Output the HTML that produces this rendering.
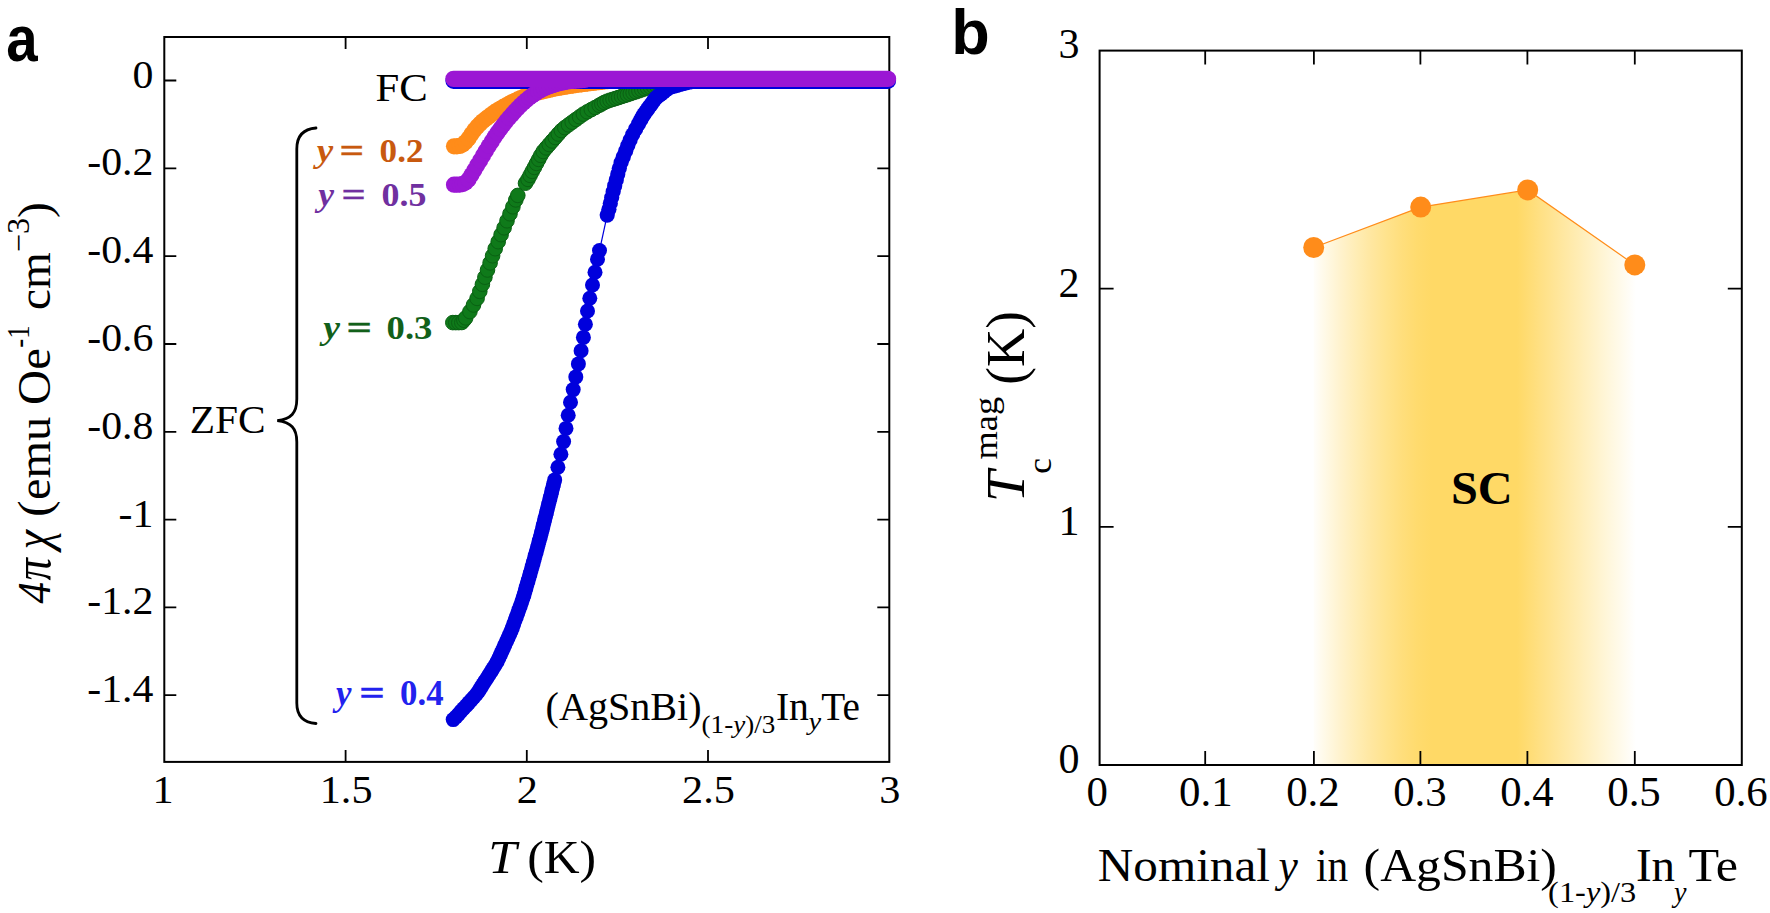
<!DOCTYPE html>
<html lang="en"><head><meta charset="utf-8"><title>Figure</title>
<style>
html,body{margin:0;padding:0;background:#fff;}
body{width:1770px;height:913px;overflow:hidden;}
svg{display:block;}
text{font-family:"Liberation Serif", "Times New Roman", serif;}
.sans{font-family:"Liberation Sans", Arial, sans-serif;font-weight:bold;}
.b{font-weight:bold;}
.i{font-style:italic;}
.bi{font-weight:bold;font-style:italic;}
.ax{stroke:#000;stroke-width:2;fill:none;}
.tk{stroke:#000;stroke-width:1.8;fill:none;}
</style></head><body>
<svg width="1770" height="913" viewBox="0 0 1770 913">
<defs>
<linearGradient id="gl" gradientUnits="userSpaceOnUse" x1="1311.0" x2="1636.0" y1="0" y2="0"><stop offset="0.0000" stop-color="#ffffff"/><stop offset="0.0465" stop-color="#fff9e5"/><stop offset="0.0931" stop-color="#fff2cc"/><stop offset="0.1396" stop-color="#ffedb5"/><stop offset="0.1862" stop-color="#ffe7a0"/><stop offset="0.2327" stop-color="#ffe38d"/><stop offset="0.2792" stop-color="#ffde7c"/><stop offset="0.3258" stop-color="#ffdb6e"/><stop offset="0.3723" stop-color="#ffd966"/><stop offset="0.6338" stop-color="#ffd966"/><stop offset="0.7254" stop-color="#ffe28c"/><stop offset="0.8169" stop-color="#ffecb2"/><stop offset="0.9085" stop-color="#fff6d9"/><stop offset="1.0000" stop-color="#ffffff"/></linearGradient>
</defs>
<rect width="1770" height="913" fill="#fff"/>

<rect class="ax" x="164.3" y="37.0" width="725.0" height="724.9"/>
<path class="tk" d="M345.6,761.9v-12M345.6,37.0v12M526.8,761.9v-12M526.8,37.0v12M708.0,761.9v-12M708.0,37.0v12M164.3,80.5h12M889.3,80.5h-12M164.3,168.3h12M889.3,168.3h-12M164.3,256.1h12M889.3,256.1h-12M164.3,344.0h12M889.3,344.0h-12M164.3,431.8h12M889.3,431.8h-12M164.3,519.6h12M889.3,519.6h-12M164.3,607.4h12M889.3,607.4h-12M164.3,695.2h12M889.3,695.2h-12"/>
<path d="M454.0,146.3 L456.9,146.3 L459.8,145.9 L462.7,144.6 L465.6,142.1 L468.5,138.4 L471.4,134.3 L474.3,130.3 L477.2,126.7 L480.1,123.7 L483.0,121.1 L485.9,118.7 L488.8,116.5 L491.7,114.3 L494.6,112.2 L497.5,110.3 L500.4,108.6 L503.3,106.9 L506.2,105.3 L509.1,103.7 L512.0,102.2 L514.9,100.8 L517.8,99.4 L520.7,98.1 L523.6,96.9 L526.5,95.8 L529.4,94.8 L532.3,94.0 L535.2,93.2 L538.1,92.5 L541.0,91.8 L543.9,91.1 L546.8,90.4 L549.7,89.8 L552.6,89.1 L555.5,88.5 L558.4,87.9 L561.3,87.4 L564.2,86.9 L567.1,86.4 L570.0,86.0 L572.9,85.6 L575.8,85.1 L578.7,84.7 L581.6,84.3 L584.5,83.9 L587.4,83.6 L590.3,83.2 L593.2,82.9 L596.1,82.5 L599.0,82.2 L601.9,81.8 L604.8,81.5 L607.7,81.2 L610.6,81.0 L613.5,80.7 L616.4,80.5 L619.3,80.4 L622.2,80.3 L625.1,80.2 L628.0,80.1" stroke="#ff8c1a" stroke-width="1.2" fill="none"/>
<g fill="#ff8c1a"><circle cx="454.0" cy="146.3" r="8.1"/><circle cx="456.9" cy="146.3" r="8.1"/><circle cx="459.8" cy="145.9" r="8.1"/><circle cx="462.7" cy="144.6" r="8.1"/><circle cx="465.6" cy="142.1" r="8.1"/><circle cx="468.5" cy="138.4" r="8.1"/><circle cx="471.4" cy="134.3" r="8.1"/><circle cx="474.3" cy="130.3" r="8.1"/><circle cx="477.2" cy="126.7" r="8.1"/><circle cx="480.1" cy="123.7" r="8.1"/><circle cx="483.0" cy="121.1" r="8.1"/><circle cx="485.9" cy="118.7" r="8.1"/><circle cx="488.8" cy="116.5" r="8.1"/><circle cx="491.7" cy="114.3" r="8.1"/><circle cx="494.6" cy="112.2" r="8.1"/><circle cx="497.5" cy="110.3" r="8.1"/><circle cx="500.4" cy="108.6" r="8.1"/><circle cx="503.3" cy="106.9" r="8.1"/><circle cx="506.2" cy="105.3" r="8.1"/><circle cx="509.1" cy="103.7" r="8.1"/><circle cx="512.0" cy="102.2" r="8.1"/><circle cx="514.9" cy="100.8" r="8.1"/><circle cx="517.8" cy="99.4" r="8.1"/><circle cx="520.7" cy="98.1" r="8.1"/><circle cx="523.6" cy="96.9" r="8.1"/><circle cx="526.5" cy="95.8" r="8.1"/><circle cx="529.4" cy="94.8" r="8.1"/><circle cx="532.3" cy="94.0" r="8.1"/><circle cx="535.2" cy="93.2" r="8.1"/><circle cx="538.1" cy="92.5" r="8.1"/><circle cx="541.0" cy="91.8" r="8.1"/><circle cx="543.9" cy="91.1" r="8.1"/><circle cx="546.8" cy="90.4" r="8.1"/><circle cx="549.7" cy="89.8" r="8.1"/><circle cx="552.6" cy="89.1" r="8.1"/><circle cx="555.5" cy="88.5" r="8.1"/><circle cx="558.4" cy="87.9" r="8.1"/><circle cx="561.3" cy="87.4" r="8.1"/><circle cx="564.2" cy="86.9" r="8.1"/><circle cx="567.1" cy="86.4" r="8.1"/><circle cx="570.0" cy="86.0" r="8.1"/><circle cx="572.9" cy="85.6" r="8.1"/><circle cx="575.8" cy="85.1" r="8.1"/><circle cx="578.7" cy="84.7" r="8.1"/><circle cx="581.6" cy="84.3" r="8.1"/><circle cx="584.5" cy="83.9" r="8.1"/><circle cx="587.4" cy="83.6" r="8.1"/><circle cx="590.3" cy="83.2" r="8.1"/><circle cx="593.2" cy="82.9" r="8.1"/><circle cx="596.1" cy="82.5" r="8.1"/><circle cx="599.0" cy="82.2" r="8.1"/><circle cx="601.9" cy="81.8" r="8.1"/><circle cx="604.8" cy="81.5" r="8.1"/><circle cx="607.7" cy="81.2" r="8.1"/><circle cx="610.6" cy="81.0" r="8.1"/><circle cx="613.5" cy="80.7" r="8.1"/><circle cx="616.4" cy="80.5" r="8.1"/><circle cx="619.3" cy="80.4" r="8.1"/><circle cx="622.2" cy="80.3" r="8.1"/><circle cx="625.1" cy="80.2" r="8.1"/><circle cx="628.0" cy="80.1" r="8.1"/></g>
<path d="M452.8,322.6 L455.8,322.6 L458.8,322.6 L461.8,322.5 L463.9,320.2 L465.7,317.9 L469.9,311.6 L473.5,305.0 L477.1,298.4 L479.8,291.4 L482.4,284.3 L484.9,277.2 L487.5,270.0 L490.1,262.9 L492.6,255.8 L495.2,248.7 L498.2,241.7 L501.1,234.7 L504.1,227.8 L507.0,220.8 L510.0,213.8 L512.9,206.8 L515.8,199.9 L517.8,195.4 L525.5,183.2 L528.0,179.4 L530.1,175.4 L532.2,171.4 L534.4,167.4 L536.5,163.4 L538.7,159.4 L540.8,155.4 L543.2,151.5 L546.2,147.9 L549.2,144.5 L552.2,141.0 L555.3,137.5 L558.3,134.0 L561.4,130.6 L564.8,127.6 L568.5,124.9 L572.2,122.2 L575.9,119.5 L579.6,116.8 L583.4,114.1 L587.3,111.8 L591.3,109.6 L595.2,107.5 L599.2,105.3 L601.8,103.9 L604.4,102.4 L607.2,101.2 L610.1,100.2 L613.0,99.3 L615.9,98.4 L618.7,97.5 L621.6,96.5 L624.5,95.6 L627.4,94.7 L630.3,93.7 L633.1,92.7 L636.0,91.8 L638.9,90.8 L641.8,89.8 L644.7,88.8 L647.5,87.8 L650.4,86.9 L653.4,86.2 L656.3,85.4 L659.3,84.7 L662.3,83.9 L665.2,83.2 L668.2,82.5 L671.2,81.9 L674.2,81.6 L677.2,81.3 L680.3,81.0 L683.3,80.7 L686.4,80.4 L689.4,80.1" stroke="#0a6113" stroke-width="1.2" fill="none"/>
<g fill="#0f7a1a" stroke="#0a6113" stroke-width="1"><circle cx="452.8" cy="322.6" r="7.3"/><circle cx="455.8" cy="322.6" r="7.3"/><circle cx="458.8" cy="322.6" r="7.3"/><circle cx="461.8" cy="322.5" r="7.3"/><circle cx="463.9" cy="320.2" r="7.3"/><circle cx="465.7" cy="317.9" r="7.3"/><circle cx="469.9" cy="311.6" r="7.3"/><circle cx="473.5" cy="305.0" r="7.3"/><circle cx="477.1" cy="298.4" r="7.3"/><circle cx="479.8" cy="291.4" r="7.3"/><circle cx="482.4" cy="284.3" r="7.3"/><circle cx="484.9" cy="277.2" r="7.3"/><circle cx="487.5" cy="270.0" r="7.3"/><circle cx="490.1" cy="262.9" r="7.3"/><circle cx="492.6" cy="255.8" r="7.3"/><circle cx="495.2" cy="248.7" r="7.3"/><circle cx="498.2" cy="241.7" r="7.3"/><circle cx="501.1" cy="234.7" r="7.3"/><circle cx="504.1" cy="227.8" r="7.3"/><circle cx="507.0" cy="220.8" r="7.3"/><circle cx="510.0" cy="213.8" r="7.3"/><circle cx="512.9" cy="206.8" r="7.3"/><circle cx="515.8" cy="199.9" r="7.3"/><circle cx="517.8" cy="195.4" r="7.3"/><circle cx="525.5" cy="183.2" r="7.3"/><circle cx="528.0" cy="179.4" r="7.3"/><circle cx="530.1" cy="175.4" r="7.3"/><circle cx="532.2" cy="171.4" r="7.3"/><circle cx="534.4" cy="167.4" r="7.3"/><circle cx="536.5" cy="163.4" r="7.3"/><circle cx="538.7" cy="159.4" r="7.3"/><circle cx="540.8" cy="155.4" r="7.3"/><circle cx="543.2" cy="151.5" r="7.3"/><circle cx="546.2" cy="147.9" r="7.3"/><circle cx="549.2" cy="144.5" r="7.3"/><circle cx="552.2" cy="141.0" r="7.3"/><circle cx="555.3" cy="137.5" r="7.3"/><circle cx="558.3" cy="134.0" r="7.3"/><circle cx="561.4" cy="130.6" r="7.3"/><circle cx="564.8" cy="127.6" r="7.3"/><circle cx="568.5" cy="124.9" r="7.3"/><circle cx="572.2" cy="122.2" r="7.3"/><circle cx="575.9" cy="119.5" r="7.3"/><circle cx="579.6" cy="116.8" r="7.3"/><circle cx="583.4" cy="114.1" r="7.3"/><circle cx="587.3" cy="111.8" r="7.3"/><circle cx="591.3" cy="109.6" r="7.3"/><circle cx="595.2" cy="107.5" r="7.3"/><circle cx="599.2" cy="105.3" r="7.3"/><circle cx="601.8" cy="103.9" r="7.3"/><circle cx="604.4" cy="102.4" r="7.3"/><circle cx="607.2" cy="101.2" r="7.3"/><circle cx="610.1" cy="100.2" r="7.3"/><circle cx="613.0" cy="99.3" r="7.3"/><circle cx="615.9" cy="98.4" r="7.3"/><circle cx="618.7" cy="97.5" r="7.3"/><circle cx="621.6" cy="96.5" r="7.3"/><circle cx="624.5" cy="95.6" r="7.3"/><circle cx="627.4" cy="94.7" r="7.3"/><circle cx="630.3" cy="93.7" r="7.3"/><circle cx="633.1" cy="92.7" r="7.3"/><circle cx="636.0" cy="91.8" r="7.3"/><circle cx="638.9" cy="90.8" r="7.3"/><circle cx="641.8" cy="89.8" r="7.3"/><circle cx="644.7" cy="88.8" r="7.3"/><circle cx="647.5" cy="87.8" r="7.3"/><circle cx="650.4" cy="86.9" r="7.3"/><circle cx="653.4" cy="86.2" r="7.3"/><circle cx="656.3" cy="85.4" r="7.3"/><circle cx="659.3" cy="84.7" r="7.3"/><circle cx="662.3" cy="83.9" r="7.3"/><circle cx="665.2" cy="83.2" r="7.3"/><circle cx="668.2" cy="82.5" r="7.3"/><circle cx="671.2" cy="81.9" r="7.3"/><circle cx="674.2" cy="81.6" r="7.3"/><circle cx="677.2" cy="81.3" r="7.3"/><circle cx="680.3" cy="81.0" r="7.3"/><circle cx="683.3" cy="80.7" r="7.3"/><circle cx="686.4" cy="80.4" r="7.3"/><circle cx="689.4" cy="80.1" r="7.3"/></g>
<path d="M453.2,719.6 L455.9,717.0 L458.5,714.2 L461.0,711.3 L463.6,708.5 L466.2,705.7 L468.7,702.9 L471.3,700.0 L473.8,697.2 L476.4,694.3 L478.7,691.1 L480.7,687.9 L482.8,684.6 L484.8,681.4 L486.9,678.2 L488.9,675.0 L491.0,671.8 L493.0,668.6 L495.1,665.3 L497.1,661.8 L498.8,658.3 L500.3,655.0 L501.9,651.6 L503.4,648.2 L504.9,644.8 L506.5,641.4 L508.0,638.0 L509.6,634.6 L511.1,631.1 L512.4,627.7 L513.7,624.1 L515.0,620.4 L516.4,616.8 L517.7,613.2 L519.0,609.6 L520.3,606.0 L521.6,602.3 L522.9,598.3 L524.0,595.0 L525.0,591.4 L526.0,587.9 L527.0,584.3 L528.1,580.8 L529.1,577.3 L530.1,573.7 L531.1,570.2 L532.2,566.6 L533.2,562.9 L534.2,559.2 L535.2,555.5 L536.3,551.7 L537.3,548.0 L538.3,544.3 L539.3,540.5 L540.4,536.7 L541.4,532.8 L542.3,529.4 L543.1,525.9 L544.0,522.4 L544.9,518.8 L545.8,515.3 L546.7,511.8 L547.5,508.3 L548.4,504.7 L549.3,501.2 L550.2,497.7 L551.1,494.2 L551.9,490.7 L552.8,487.2 L553.7,483.8 L554.7,479.9 L557.9,467.2 L560.9,454.3 L563.6,441.6 L566.0,428.4 L568.2,415.2 L570.5,402.3 L573.2,389.6 L575.8,376.9 L578.4,363.9 L581.1,350.7 L583.4,337.4 L585.4,324.2 L587.5,311.0 L589.8,298.2 L592.5,285.0 L595.0,272.3 L597.5,259.2 L599.5,250.5 L607.2,215.1 L608.9,209.3 L610.3,203.4 L611.7,197.5 L613.2,191.6 L614.7,185.7 L616.3,179.9 L617.8,174.1 L619.3,168.3 L621.1,162.5 L623.3,156.8 L625.6,151.2 L627.8,145.6 L630.1,140.0 L632.7,134.5 L635.6,129.2 L638.5,123.9 L640.7,119.9 L642.1,117.3 L643.7,114.7 L645.5,112.2 L647.3,109.7 L649.0,107.2 L650.8,104.8 L652.6,102.3 L654.3,99.8 L656.3,97.6 L658.8,95.7 L661.2,93.8 L663.6,91.9 L666.0,90.0 L668.4,88.1 L671.1,86.9 L674.1,86.1 L677.0,85.3 L680.0,84.5 L682.9,83.7 L685.9,82.9 L688.8,82.1 L691.8,81.7 L694.8,81.4 L697.8,81.2 L700.8,80.9 L703.8,80.7 L706.8,80.6 L709.9,80.6 L712.9,80.5 L715.9,80.5 L718.9,80.5 L721.9,80.4 L724.9,80.4" stroke="#0000dc" stroke-width="1.2" fill="none"/>
<g fill="#0000dc"><circle cx="453.2" cy="719.6" r="7.5"/><circle cx="455.9" cy="717.0" r="7.5"/><circle cx="458.5" cy="714.2" r="7.5"/><circle cx="461.0" cy="711.3" r="7.5"/><circle cx="463.6" cy="708.5" r="7.5"/><circle cx="466.2" cy="705.7" r="7.5"/><circle cx="468.7" cy="702.9" r="7.5"/><circle cx="471.3" cy="700.0" r="7.5"/><circle cx="473.8" cy="697.2" r="7.5"/><circle cx="476.4" cy="694.3" r="7.5"/><circle cx="478.7" cy="691.1" r="7.5"/><circle cx="480.7" cy="687.9" r="7.5"/><circle cx="482.8" cy="684.6" r="7.5"/><circle cx="484.8" cy="681.4" r="7.5"/><circle cx="486.9" cy="678.2" r="7.5"/><circle cx="488.9" cy="675.0" r="7.5"/><circle cx="491.0" cy="671.8" r="7.5"/><circle cx="493.0" cy="668.6" r="7.5"/><circle cx="495.1" cy="665.3" r="7.5"/><circle cx="497.1" cy="661.8" r="7.5"/><circle cx="498.8" cy="658.3" r="7.5"/><circle cx="500.3" cy="655.0" r="7.5"/><circle cx="501.9" cy="651.6" r="7.5"/><circle cx="503.4" cy="648.2" r="7.5"/><circle cx="504.9" cy="644.8" r="7.5"/><circle cx="506.5" cy="641.4" r="7.5"/><circle cx="508.0" cy="638.0" r="7.5"/><circle cx="509.6" cy="634.6" r="7.5"/><circle cx="511.1" cy="631.1" r="7.5"/><circle cx="512.4" cy="627.7" r="7.5"/><circle cx="513.7" cy="624.1" r="7.5"/><circle cx="515.0" cy="620.4" r="7.5"/><circle cx="516.4" cy="616.8" r="7.5"/><circle cx="517.7" cy="613.2" r="7.5"/><circle cx="519.0" cy="609.6" r="7.5"/><circle cx="520.3" cy="606.0" r="7.5"/><circle cx="521.6" cy="602.3" r="7.5"/><circle cx="522.9" cy="598.3" r="7.5"/><circle cx="524.0" cy="595.0" r="7.5"/><circle cx="525.0" cy="591.4" r="7.5"/><circle cx="526.0" cy="587.9" r="7.5"/><circle cx="527.0" cy="584.3" r="7.5"/><circle cx="528.1" cy="580.8" r="7.5"/><circle cx="529.1" cy="577.3" r="7.5"/><circle cx="530.1" cy="573.7" r="7.5"/><circle cx="531.1" cy="570.2" r="7.5"/><circle cx="532.2" cy="566.6" r="7.5"/><circle cx="533.2" cy="562.9" r="7.5"/><circle cx="534.2" cy="559.2" r="7.5"/><circle cx="535.2" cy="555.5" r="7.5"/><circle cx="536.3" cy="551.7" r="7.5"/><circle cx="537.3" cy="548.0" r="7.5"/><circle cx="538.3" cy="544.3" r="7.5"/><circle cx="539.3" cy="540.5" r="7.5"/><circle cx="540.4" cy="536.7" r="7.5"/><circle cx="541.4" cy="532.8" r="7.5"/><circle cx="542.3" cy="529.4" r="7.5"/><circle cx="543.1" cy="525.9" r="7.5"/><circle cx="544.0" cy="522.4" r="7.5"/><circle cx="544.9" cy="518.8" r="7.5"/><circle cx="545.8" cy="515.3" r="7.5"/><circle cx="546.7" cy="511.8" r="7.5"/><circle cx="547.5" cy="508.3" r="7.5"/><circle cx="548.4" cy="504.7" r="7.5"/><circle cx="549.3" cy="501.2" r="7.5"/><circle cx="550.2" cy="497.7" r="7.5"/><circle cx="551.1" cy="494.2" r="7.5"/><circle cx="551.9" cy="490.7" r="7.5"/><circle cx="552.8" cy="487.2" r="7.5"/><circle cx="553.7" cy="483.8" r="7.5"/><circle cx="554.7" cy="479.9" r="7.5"/><circle cx="557.9" cy="467.2" r="7.5"/><circle cx="560.9" cy="454.3" r="7.5"/><circle cx="563.6" cy="441.6" r="7.5"/><circle cx="566.0" cy="428.4" r="7.5"/><circle cx="568.2" cy="415.2" r="7.5"/><circle cx="570.5" cy="402.3" r="7.5"/><circle cx="573.2" cy="389.6" r="7.5"/><circle cx="575.8" cy="376.9" r="7.5"/><circle cx="578.4" cy="363.9" r="7.5"/><circle cx="581.1" cy="350.7" r="7.5"/><circle cx="583.4" cy="337.4" r="7.5"/><circle cx="585.4" cy="324.2" r="7.5"/><circle cx="587.5" cy="311.0" r="7.5"/><circle cx="589.8" cy="298.2" r="7.5"/><circle cx="592.5" cy="285.0" r="7.5"/><circle cx="595.0" cy="272.3" r="7.5"/><circle cx="597.5" cy="259.2" r="7.5"/><circle cx="599.5" cy="250.5" r="7.5"/></g>
<g fill="#0000dc"><circle cx="607.2" cy="215.1" r="7.6"/><circle cx="608.9" cy="209.3" r="7.6"/><circle cx="610.3" cy="203.4" r="7.6"/><circle cx="611.7" cy="197.5" r="7.6"/><circle cx="613.2" cy="191.6" r="7.6"/><circle cx="614.7" cy="185.7" r="7.6"/><circle cx="616.3" cy="179.9" r="7.6"/><circle cx="617.8" cy="174.1" r="7.6"/><circle cx="619.3" cy="168.3" r="7.6"/><circle cx="621.1" cy="162.5" r="7.6"/><circle cx="623.3" cy="156.8" r="7.6"/><circle cx="625.6" cy="151.2" r="7.6"/><circle cx="627.8" cy="145.6" r="7.6"/><circle cx="630.1" cy="140.0" r="7.6"/><circle cx="632.7" cy="134.5" r="7.6"/><circle cx="635.6" cy="129.2" r="7.6"/><circle cx="638.5" cy="123.9" r="7.6"/><circle cx="640.7" cy="119.9" r="7.6"/><circle cx="642.1" cy="117.3" r="7.6"/><circle cx="643.7" cy="114.7" r="7.6"/><circle cx="645.5" cy="112.2" r="7.6"/><circle cx="647.3" cy="109.7" r="7.6"/><circle cx="649.0" cy="107.2" r="7.6"/><circle cx="650.8" cy="104.8" r="7.6"/><circle cx="652.6" cy="102.3" r="7.6"/><circle cx="654.3" cy="99.8" r="7.6"/><circle cx="656.3" cy="97.6" r="7.6"/><circle cx="658.8" cy="95.7" r="7.6"/><circle cx="661.2" cy="93.8" r="7.6"/><circle cx="663.6" cy="91.9" r="7.6"/><circle cx="666.0" cy="90.0" r="7.6"/><circle cx="668.4" cy="88.1" r="7.6"/><circle cx="671.1" cy="86.9" r="7.6"/><circle cx="674.1" cy="86.1" r="7.6"/><circle cx="677.0" cy="85.3" r="7.6"/><circle cx="680.0" cy="84.5" r="7.6"/><circle cx="682.9" cy="83.7" r="7.6"/><circle cx="685.9" cy="82.9" r="7.6"/><circle cx="688.8" cy="82.1" r="7.6"/><circle cx="691.8" cy="81.7" r="7.6"/><circle cx="694.8" cy="81.4" r="7.6"/><circle cx="697.8" cy="81.2" r="7.6"/><circle cx="700.8" cy="80.9" r="7.6"/><circle cx="703.8" cy="80.7" r="7.6"/><circle cx="706.8" cy="80.6" r="7.6"/><circle cx="709.9" cy="80.6" r="7.6"/><circle cx="712.9" cy="80.5" r="7.6"/><circle cx="715.9" cy="80.5" r="7.6"/><circle cx="718.9" cy="80.5" r="7.6"/><circle cx="721.9" cy="80.4" r="7.6"/><circle cx="724.9" cy="80.4" r="7.6"/></g>
<path d="M453.5,80.8H888" stroke="#0000dc" stroke-width="16.2" stroke-linecap="round" fill="none"/>
<g fill="#9b17d4"><circle cx="454.0" cy="184.7" r="8.1"/><circle cx="456.9" cy="184.7" r="8.1"/><circle cx="459.8" cy="184.6" r="8.1"/><circle cx="462.7" cy="184.1" r="8.1"/><circle cx="465.6" cy="182.6" r="8.1"/><circle cx="468.5" cy="179.5" r="8.1"/><circle cx="471.4" cy="175.1" r="8.1"/><circle cx="474.3" cy="170.3" r="8.1"/><circle cx="477.2" cy="165.3" r="8.1"/><circle cx="480.1" cy="160.4" r="8.1"/><circle cx="483.0" cy="155.5" r="8.1"/><circle cx="485.9" cy="150.7" r="8.1"/><circle cx="488.8" cy="146.0" r="8.1"/><circle cx="491.7" cy="141.4" r="8.1"/><circle cx="494.6" cy="137.0" r="8.1"/><circle cx="497.5" cy="132.7" r="8.1"/><circle cx="500.4" cy="128.7" r="8.1"/><circle cx="503.3" cy="124.9" r="8.1"/><circle cx="506.2" cy="121.2" r="8.1"/><circle cx="509.1" cy="117.7" r="8.1"/><circle cx="512.0" cy="114.4" r="8.1"/><circle cx="514.9" cy="111.2" r="8.1"/><circle cx="517.8" cy="108.2" r="8.1"/><circle cx="520.7" cy="105.3" r="8.1"/><circle cx="523.6" cy="102.5" r="8.1"/><circle cx="526.5" cy="100.0" r="8.1"/><circle cx="529.4" cy="97.6" r="8.1"/><circle cx="532.3" cy="95.4" r="8.1"/><circle cx="535.2" cy="93.4" r="8.1"/><circle cx="538.1" cy="91.5" r="8.1"/><circle cx="541.0" cy="89.9" r="8.1"/><circle cx="543.9" cy="88.5" r="8.1"/><circle cx="546.8" cy="87.3" r="8.1"/><circle cx="549.7" cy="86.2" r="8.1"/><circle cx="552.6" cy="85.2" r="8.1"/><circle cx="555.5" cy="84.3" r="8.1"/><circle cx="558.4" cy="83.5" r="8.1"/><circle cx="561.3" cy="82.8" r="8.1"/><circle cx="564.2" cy="82.2" r="8.1"/><circle cx="567.1" cy="81.6" r="8.1"/><circle cx="570.0" cy="81.2" r="8.1"/><circle cx="572.9" cy="80.9" r="8.1"/><circle cx="575.8" cy="80.6" r="8.1"/><circle cx="578.7" cy="80.4" r="8.1"/><circle cx="581.6" cy="80.2" r="8.1"/><circle cx="584.5" cy="80.0" r="8.1"/></g>
<path d="M453.5,78.9H888" stroke="#9b17d4" stroke-width="16.4" stroke-linecap="round" fill="none"/>
<path d="M316,128 C303,129 296.8,136 296.8,149 V399 C296.8,413 291,419 277.3,420.7 C291,422.5 296.8,428 296.8,442 V703 C296.8,716 303,722.5 316,723.5" stroke="#000" stroke-width="2.8" fill="none" stroke-linecap="round"/>
<text transform="translate(6.2,61.2) scale(0.875,1)" font-size="64.5" class="sans">a</text>
<text x="951.3" y="53.9" font-size="63" class="sans">b</text>
<text transform="translate(153.4,87.5) scale(1.02,1)" font-size="41" text-anchor="end">0</text>
<text transform="translate(153.4,175.3) scale(1.02,1)" font-size="41" text-anchor="end">-0.2</text>
<text transform="translate(153.4,263.1) scale(1.02,1)" font-size="41" text-anchor="end">-0.4</text>
<text transform="translate(153.4,351.0) scale(1.02,1)" font-size="41" text-anchor="end">-0.6</text>
<text transform="translate(153.4,438.8) scale(1.02,1)" font-size="41" text-anchor="end">-0.8</text>
<text transform="translate(153.4,526.6) scale(1.02,1)" font-size="41" text-anchor="end">-1</text>
<text transform="translate(153.4,614.4) scale(1.02,1)" font-size="41" text-anchor="end">-1.2</text>
<text transform="translate(153.4,702.2) scale(1.02,1)" font-size="41" text-anchor="end">-1.4</text>
<text transform="translate(163.1,803.3) scale(1.03,1)" font-size="41" text-anchor="middle">1</text>
<text transform="translate(346.1,803.3) scale(1.03,1)" font-size="41" text-anchor="middle">1.5</text>
<text transform="translate(527.3,803.3) scale(1.03,1)" font-size="41" text-anchor="middle">2</text>
<text transform="translate(708.5,803.3) scale(1.03,1)" font-size="41" text-anchor="middle">2.5</text>
<text transform="translate(889.8,803.3) scale(1.03,1)" font-size="41" text-anchor="middle">3</text>
<text transform="translate(488.3,872.8) scale(1.085,1)" font-size="47" class="i">T</text><text transform="translate(527.2,872.8) scale(1.057,1)" font-size="47">(K)</text>
<g transform="translate(49.9,604) rotate(-90)"><text transform="translate(0.6,0) scale(0.936,1)" font-size="46" class="i">4</text><text transform="translate(23.6,0) scale(0.859,1)" font-size="52" class="i">π</text><text transform="translate(54.8,0) scale(0.843,1)" font-size="52" class="i">χ</text><text transform="translate(87.0,0) scale(1.083,1)" font-size="46">(</text><text transform="translate(103.9,0) scale(1.052,1)" font-size="46">emu</text><text transform="translate(199.1,0) scale(1.056,1)" font-size="46">Oe</text><text transform="translate(256.2,-20.8) scale(0.865,1)" font-size="31">-1</text><text transform="translate(294.1,0) scale(1.028,1)" font-size="46">cm</text><text transform="translate(351.9,-20.8) scale(1.04,1)" font-size="31">−3</text><text transform="translate(385.9,0) scale(1.033,1)" font-size="46">)</text></g>
<text transform="translate(375.5,101.2) scale(1.043,1)" font-size="41">FC</text><text transform="translate(189.7,432.8) scale(1.035,1)" font-size="40">ZFC</text>
<text transform="translate(316.7,162.4) scale(1.089,1)" font-size="34" class="bi" fill="#c8590f">y</text><text transform="translate(339.4,162.4) scale(1.275,1)" font-size="34" class="b" stroke="#c8590f" stroke-width="0.35" fill="#c8590f">=</text><text transform="translate(379.6,162.4) scale(1.035,1)" font-size="34" class="b" fill="#c8590f">0.2</text>
<text transform="translate(318.3,206.3) scale(1.044,1)" font-size="34" class="bi" fill="#7030a0">y</text><text transform="translate(341.6,206.3) scale(1.256,1)" font-size="34" class="b" stroke="#7030a0" stroke-width="0.35" fill="#7030a0">=</text><text transform="translate(381.6,206.3) scale(1.058,1)" font-size="34" class="b" fill="#7030a0">0.5</text>
<text transform="translate(323.3,339.1) scale(1.111,1)" font-size="34" class="bi" fill="#12601a">y</text><text transform="translate(346.6,339.1) scale(1.319,1)" font-size="34" class="b" stroke="#12601a" stroke-width="0.35" fill="#12601a">=</text><text transform="translate(386.6,339.1) scale(1.078,1)" font-size="34" class="b" fill="#12601a">0.3</text>
<text transform="translate(335.9,705) scale(0.995,1)" font-size="35" class="bi" fill="#2222ee">y</text><text transform="translate(359.3,705) scale(1.288,1)" font-size="35" class="b" stroke="#2222ee" stroke-width="0.35" fill="#2222ee">=</text><text transform="translate(400.1,705) scale(0.995,1)" font-size="35" class="b" fill="#2222ee">0.4</text>
<text transform="translate(545.6,719.6) scale(1.003,1)" font-size="40">(AgSnBi)</text><text transform="translate(701.6,733.4) scale(1.041,1)" font-size="26">(1-<tspan class="i">y</tspan>)/3</text><text transform="translate(775.9,719.6) scale(0.991,1)" font-size="40">In</text><text transform="translate(808.5,729.5) scale(1.092,1)" font-size="26" class="i">y</text><text transform="translate(821.3,719.6) scale(0.981,1)" font-size="40">Te</text>
<path d="M1313.7,247.5 L1420.7,207.1 L1527.7,189.9 L1636.3,264.9 V765.0 H1313.7Z" fill="url(#gl)"/>
<rect class="ax" x="1099.6" y="50.6" width="642.2" height="714.4" stroke-width="1.9"/>
<path class="tk" d="M1205.2,765.0v-14M1205.2,50.6v14M1313.9,765.0v-14M1313.9,50.6v14M1420.4,765.0v-14M1420.4,50.6v14M1527.4,765.0v-14M1527.4,50.6v14M1634.8,765.0v-14M1634.8,50.6v14M1099.6,526.9h14M1741.8,526.9h-14M1099.6,288.7h14M1741.8,288.7h-14"/>
<path d="M1313.7,247.5 L1420.7,207.1 L1527.7,189.9 L1634.8,264.9" stroke="#ff8c1a" stroke-width="1.2" fill="none"/>
<g fill="#ff8c1a"><circle cx="1313.7" cy="247.5" r="10.5"/><circle cx="1420.7" cy="207.1" r="10.5"/><circle cx="1527.7" cy="189.9" r="10.5"/><circle cx="1634.8" cy="264.9" r="10.5"/></g>
<text x="1079.5" y="772.8" font-size="42" text-anchor="end">0</text>
<text x="1079.5" y="534.7" font-size="42" text-anchor="end">1</text>
<text x="1079.5" y="296.5" font-size="42" text-anchor="end">2</text>
<text x="1079.5" y="58.4" font-size="42" text-anchor="end">3</text>
<text transform="translate(1097.3,806.4) scale(1.02,1)" font-size="42" text-anchor="middle">0</text>
<text transform="translate(1205.8,806.4) scale(1.02,1)" font-size="42" text-anchor="middle">0.1</text>
<text transform="translate(1312.9,806.4) scale(1.02,1)" font-size="42" text-anchor="middle">0.2</text>
<text transform="translate(1419.9,806.4) scale(1.02,1)" font-size="42" text-anchor="middle">0.3</text>
<text transform="translate(1526.9,806.4) scale(1.02,1)" font-size="42" text-anchor="middle">0.4</text>
<text transform="translate(1634.0,806.4) scale(1.02,1)" font-size="42" text-anchor="middle">0.5</text>
<text transform="translate(1741.0,806.4) scale(1.02,1)" font-size="42" text-anchor="middle">0.6</text>
<text transform="translate(1451.0,503.8) scale(1.062,1)" font-size="45.5" class="b">SC</text>
<text transform="translate(1097.8,880.5) scale(1.058,1)" font-size="46.5">Nominal</text><text transform="translate(1278.4,880.5) scale(0.936,1)" font-size="46.5" class="i">y</text><text transform="translate(1316.1,880.5) scale(0.889,1)" font-size="46.5">in</text><text transform="translate(1363.6,880.5) scale(1.069,1)" font-size="46.5">(AgSnBi)</text><text transform="translate(1548.1,902) scale(1.137,1)" font-size="28.5">(1-<tspan class="i">y</tspan>)/3</text><text transform="translate(1635.9,880.5) scale(1.011,1)" font-size="46.5">In</text><text transform="translate(1673.9,902) scale(0.987,1)" font-size="28.5" class="i">y</text><text transform="translate(1688.5,880.5) scale(1.079,1)" font-size="46.5">Te</text>
<g transform="translate(1024.4,498.3) rotate(-90)"><text transform="translate(-3.9,0) scale(1.045,1)" font-size="54" class="i">T</text><text transform="translate(24.5,26.8) scale(1.023,1)" font-size="34.5">c</text><text transform="translate(38.9,-27.4) scale(1.053,1)" font-size="34.5">mag</text><text transform="translate(113.5,0) scale(0.985,1)" font-size="54">(K)</text></g>
</svg></body></html>
